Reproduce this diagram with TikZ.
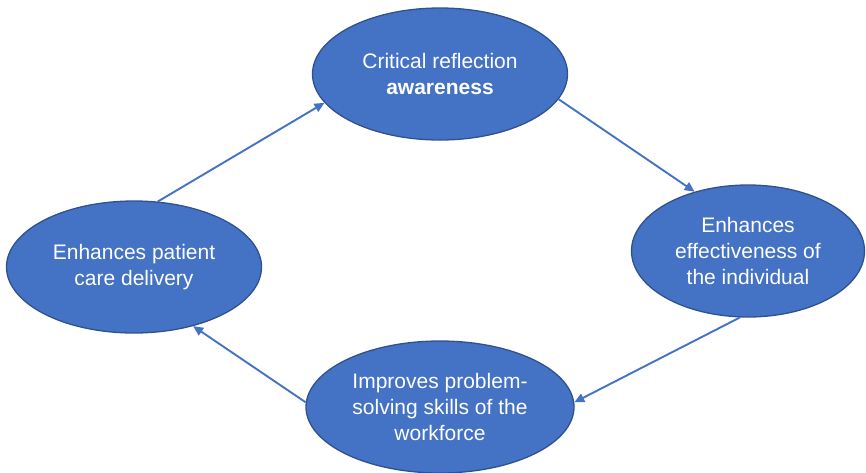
\documentclass[tikz,border=0pt]{standalone}
\usepackage{fontspec}
\setmainfont{Liberation Sans}
\usetikzlibrary{shapes.geometric,arrows.meta}
\definecolor{fillblue}{HTML}{4472C4}
\definecolor{edgeblue}{HTML}{2F528F}
\begin{document}
\begin{tikzpicture}[x=1pt,y=-1pt,
  bubble/.style={ellipse, draw=edgeblue, line width=1.3pt, fill=fillblue,
    text=white, align=center, inner sep=0pt, minimum height=132pt,
    font=\fontsize{21}{26}\selectfont},
  flow/.style={draw=fillblue, line width=1.9pt,
    -{Triangle[length=10pt,width=9pt]}}]
\useasboundingbox (0,0) rectangle (866,472);

% the four stages of the cycle
\node[bubble, minimum width=255pt] (top) at (440,74)
  {Critical reflection\\\textbf{awareness}};
\node[bubble, minimum width=233pt] (right) at (748,251)
  {Enhances\\effectiveness of\\the individual};
\node[bubble, minimum width=268pt] (bottom) at (440,407)
  {Improves problem-\\solving skills of the\\workforce};
\node[bubble, minimum width=255pt] (left) at (134,267)
  {Enhances patient\\care delivery};

% arrows running clockwise round the cycle
\draw[flow] (left.70) -- (top.194);
\draw[flow] (top.348) -- (right.132);
\draw[flow] (right.263) -- (bottom.2);
\draw[flow] (bottom.178) -- (left.315);
\end{tikzpicture}
\end{document}
